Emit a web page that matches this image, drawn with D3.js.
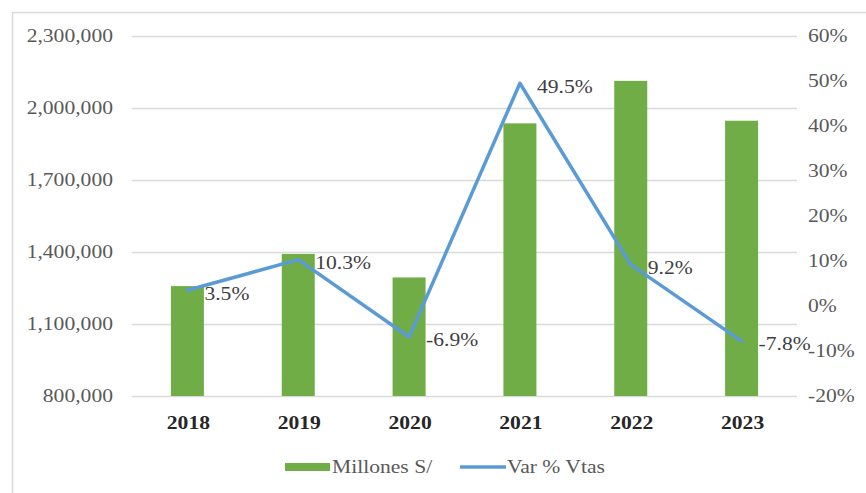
<!DOCTYPE html>
<html>
<head>
<meta charset="utf-8">
<script src="https://cdn.jsdelivr.net/npm/d3@7"></script>
<style>
  html, body { margin: 0; padding: 0; background: #fff; }
  svg { display: block; }
  svg text { font-family: "Liberation Serif", "Times New Roman", serif; }
</style>
</head>
<body>
<svg id="chart" width="866" height="493"></svg>
<script>
// Annual sales (millions of soles) and year-over-year variation
const years = ["2018", "2019", "2020", "2021", "2022", "2023"];
const sales = [1258000, 1392000, 1294000, 1936000, 2113000, 1947000];
const varPct = [3.5, 10.3, -6.9, 49.5, 9.2, -7.8];
const leftTicks = [800000, 1100000, 1400000, 1700000, 2000000, 2300000];
const rightTicks = [-20, -10, 0, 10, 20, 30, 40, 50, 60];
const seriesNames = ["Millones S/", "Var % Vtas"];

const svg = d3.select("#chart");
const W = 866, H = 493;
const plot = { left: 132, right: 797, top: 36, bottom: 396 };

const green = "#70ad47", blue = "#5b9bd5";
const FONT = 18, STRETCH = 1.2;

// Places a text at (x, y) with a slightly widened glyph shape
function placeText(sel, fx, fy) {
  return sel.attr("x", 0).attr("y", 0)
    .attr("transform", (d, i) => `translate(${fx(d, i)},${fy(d, i)}) scale(${STRETCH},1)`);
}

// Outer chart frame
svg.append("rect")
  .attr("x", 12.5).attr("y", 12.5)
  .attr("width", W).attr("height", H)
  .attr("fill", "none").attr("stroke", "#d9d9d9").attr("stroke-width", 1.5);

const x = d3.scaleBand().domain(years).range([plot.left, plot.right]).paddingInner(0).paddingOuter(0);
const yL = d3.scaleLinear().domain([800000, 2300000]).range([plot.bottom, plot.top]);
const yR = d3.scaleLinear().domain([-20, 60]).range([plot.bottom, plot.top]);
const cx = d => x(d) + x.bandwidth() / 2;

// Horizontal gridlines
svg.append("g").selectAll("line").data(leftTicks).join("line")
  .attr("x1", plot.left).attr("x2", plot.right)
  .attr("y1", d => Math.round(yL(d)) + 0.5).attr("y2", d => Math.round(yL(d)) + 0.5)
  .attr("stroke", "#d9d9d9").attr("stroke-width", 1.3);

// Left axis labels
const fmt = d3.format(",");
placeText(svg.append("g").selectAll("text").data(leftTicks).join("text"), () => 113, d => yL(d))
  .attr("dy", "0.35em").attr("text-anchor", "end")
  .attr("font-size", FONT).attr("fill", "#595959")
  .text(d => fmt(d));

// Right axis labels
placeText(svg.append("g").selectAll("text").data(rightTicks).join("text"), () => 808, d => yR(d))
  .attr("dy", "0.35em").attr("text-anchor", "start")
  .attr("font-size", FONT).attr("fill", "#595959")
  .text(d => d + "%");

// Bars
const barW = 33;
svg.append("g").selectAll("rect").data(years).join("rect")
  .attr("x", d => cx(d) - barW / 2)
  .attr("y", (d, i) => yL(sales[i]))
  .attr("width", barW)
  .attr("height", (d, i) => plot.bottom - yL(sales[i]))
  .attr("fill", green);

// Category labels
placeText(svg.append("g").selectAll("text").data(years).join("text"), d => cx(d) + 1, () => 423)
  .attr("dy", "0.35em").attr("text-anchor", "middle")
  .attr("font-size", FONT).attr("font-weight", "bold").attr("fill", "#262626")
  .text(d => d);

// Variation line
const line = d3.line()
  .x((d, i) => cx(years[i]))
  .y(d => yR(d));
svg.append("path").datum(varPct)
  .attr("d", line)
  .attr("fill", "none").attr("stroke", blue)
  .attr("stroke-width", 3.5).attr("stroke-linejoin", "round").attr("stroke-linecap", "round");

// Data labels for the variation line
placeText(svg.append("g").selectAll("text").data(varPct).join("text"),
    (d, i) => cx(years[i]) + 17, d => yR(d) + 3)
  .attr("dy", "0.35em")
  .attr("font-size", FONT).attr("fill", "#404040")
  .text(d => d.toFixed(1) + "%");

// Legend
const lg = svg.append("g");
lg.append("rect").attr("x", 285).attr("y", 463).attr("width", 45).attr("height", 8).attr("fill", green);
placeText(lg.append("text").datum(0), () => 332, () => 467)
  .attr("dy", "0.35em").attr("font-size", FONT).attr("fill", "#595959").text(seriesNames[0]);
lg.append("line").attr("x1", 460).attr("x2", 506).attr("y1", 467).attr("y2", 467)
  .attr("stroke", blue).attr("stroke-width", 3.5);
placeText(lg.append("text").datum(0), () => 507, () => 467)
  .attr("dy", "0.35em").attr("font-size", FONT).attr("fill", "#595959").text(seriesNames[1]);
</script>
</body>
</html>
